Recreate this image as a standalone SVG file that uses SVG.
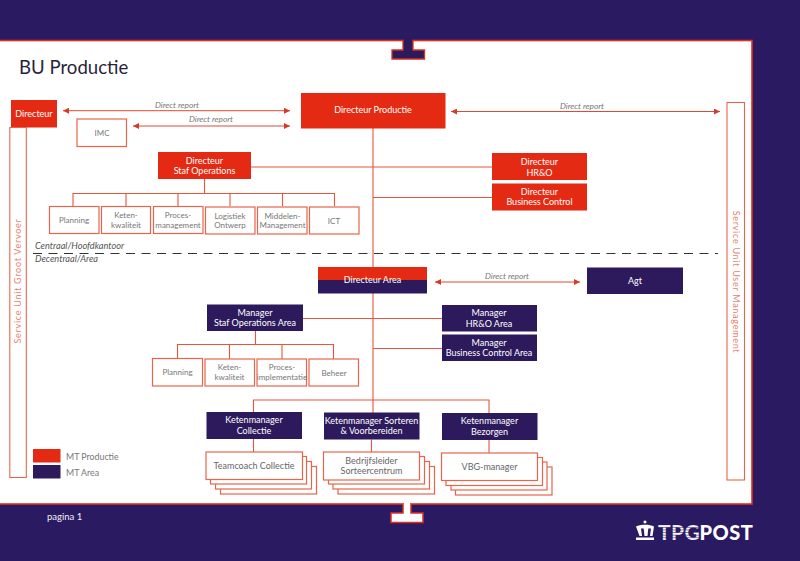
<svg xmlns="http://www.w3.org/2000/svg" width="800" height="561" viewBox="0 0 800 561">
<style>
text{font-family:Lato,"Open Sans","Liberation Sans",sans-serif;text-anchor:middle}
.r{fill:#e42a12}.d{fill:#2c1a5c}
.w{fill:#fff;font-size:9px}
.o{fill:#fff;stroke:#e8644c;stroke-width:1.2}
.g{fill:#777;font-size:8px}
.c{fill:none;stroke:#e8553c;stroke-width:1.1}
.a{fill:none;stroke:#df4a35;stroke-width:1;marker-start:url(#as);marker-end:url(#ae)}
.i{fill:#777;font-size:8.300px;font-style:italic}
.z{fill:#555;font-size:9.200px;font-style:italic;text-anchor:start}
.s{fill:#e98270;font-size:9px;letter-spacing:.72px}
.k{fill:none;stroke:#e8644c;stroke-width:1.1}
.l{fill:#777;font-size:8.800px;text-anchor:start}
.t{font-size:9px;fill:#666}
</style>
<defs>
<marker id="ae" markerWidth="7" markerHeight="6" refX="6" refY="3" orient="auto" markerUnits="userSpaceOnUse"><path d="M0 0L6 3L0 6Z" fill="#d83a28"/></marker>
<marker id="as" markerWidth="7" markerHeight="6" refX="0" refY="3" orient="auto" markerUnits="userSpaceOnUse"><path d="M6 0L0 3L6 6Z" fill="#d83a28"/></marker>
<pattern id="st" width="4" height="2.6" patternUnits="userSpaceOnUse"><rect width="4" height="1.7" fill="#fff"/><rect y="1.7" width="4" height="0.9" fill="#7d7398"/></pattern>
</defs>

<rect width="800" height="561" fill="#2a1a62"/>
<rect x="-2" y="40.500" width="754" height="463.500" fill="#fff" stroke="#e0301c" stroke-width="1.600"/>

<g id="tab-top"><path d="M403 40.500V50H392V59H424.500V50H413V40.500" fill="#2c1a5c" stroke="#d83020" stroke-width="1.300"/><rect x="404" y="38" width="8" height="4" fill="#2c1a5c"/></g>
<g id="tab-bottom"><path d="M403 504V513H391V522.500H423V513H411V504" fill="#fff" stroke="#d83020" stroke-width="1.500"/><rect x="404" y="502" width="6" height="4" fill="#fff"/></g>

<text x="19" y="74" style="text-anchor:start;font-size:18.600px" fill="#2a1f3a">BU Productie</text>

<g id="connectors">
<path class="c" d="M373 128V413M251 167H492M373 197.500H492M204.500 179V193M73 206V193.500H334.500V206M126 193V206M178 193V206M230 193V206M282.500 193V206"/>
<path class="c" d="M303 318.500H442M373 348.500H442M255.500 331V344.500M177.500 359V344.500H333.500V359M229.500 344.500V359M282 344.500V359"/>
<path class="c" d="M253.500 412V400H489V413M253.500 439V452M371.500 439.500V452M489 440V453"/>
<path class="a" d="M63 110.700H290"/>
<path class="a" d="M133 126H290"/>
<path class="a" d="M451 111.500H720"/>
<path class="a" d="M435 282H580"/>
<path d="M33 253.500H718" fill="none" stroke="#333" stroke-width="1" stroke-dasharray="9 6.500"/>
</g>
<text class="i" x="177" y="107.500">Direct report</text>
<text class="i" x="211" y="122">Direct report</text>
<text class="i" x="582" y="108.500">Direct report</text>
<text class="i" x="507" y="278.500">Direct report</text>
<text class="z" x="35" y="249">Centraal/Hoofdkantoor</text>
<text class="z" x="35" y="262">Decentraal/Area</text>

<g id="n-directeur"><rect class="r" x="11" y="100" width="46" height="27.500"/><text class="w" x="34" y="117">Directeur</text></g>
<g id="n-su-groot"><rect class="k" x="9.800" y="127.500" width="16.500" height="350"/><text class="s" transform="translate(21 281) rotate(-90)">Service Unit Groot Vervoer</text></g>
<g id="n-su-user"><rect class="k" x="727" y="102.500" width="17.500" height="377.500"/><text class="s" transform="translate(732.500 282) rotate(90)">Service Unit User Management</text></g>
<g id="n-imc"><rect class="o" x="77" y="119" width="49.500" height="27.500"/><text class="g" x="102" y="135.500">IMC</text></g>
<g id="n-dir-prod"><rect class="r" x="301" y="93" width="144.500" height="35.500"/><text class="w" x="373" y="113">Directeur Productie</text></g>
<g id="n-staf-op"><rect class="r" x="158" y="152" width="93" height="27"/><text class="w" x="204.500" y="163.500">Directeur</text><text class="w" x="204.500" y="174">Staf Operations</text></g>
<g id="n-hro"><rect class="r" x="492" y="153" width="95" height="27"/><text class="w" x="539.500" y="165">Directeur</text><text class="w" x="539.500" y="175.500">HR&amp;O</text></g>
<g id="n-bc"><rect class="r" x="492" y="183.500" width="95" height="27"/><text class="w" x="539.500" y="194.500">Directeur</text><text class="w" x="539.500" y="205">Business Control</text></g>

<g id="n-planning"><rect class="o" x="49.500" y="206.500" width="49.500" height="27"/><text class="g" x="74" y="223">Planning</text></g>
<g id="n-keten"><rect class="o" x="101.500" y="206.500" width="49" height="27"/><text class="g" x="126" y="218">Keten-</text><text class="g" x="126" y="227.500">kwaliteit</text></g>
<g id="n-proces"><rect class="o" x="153.500" y="206.500" width="49.500" height="27"/><text class="g" x="178" y="218">Proces-</text><text class="g" x="178" y="227.500">management</text></g>
<g id="n-logistiek"><rect class="o" x="205.500" y="207" width="49.500" height="27"/><text class="g" x="230" y="218.500">Logistiek</text><text class="g" x="230" y="228">Ontwerp</text></g>
<g id="n-middelen"><rect class="o" x="257.500" y="207" width="49.500" height="27"/><text class="g" x="282.500" y="218.500">Middelen-</text><text class="g" x="282.500" y="228">Management</text></g>
<g id="n-ict"><rect class="o" x="309.500" y="207" width="49.500" height="27"/><text class="g" x="334" y="224">ICT</text></g>

<g id="n-dir-area"><rect class="d" x="318" y="267" width="109" height="26.500"/><rect class="r" x="318" y="267" width="109" height="13"/><text class="w" x="372.500" y="283">Directeur Area</text></g>
<g id="n-agt"><rect class="d" x="587" y="267.500" width="96" height="26.500"/><text class="w" x="635" y="284">Agt</text></g>
<g id="n-man-staf"><rect class="d" x="207" y="304.500" width="96" height="26.500"/><text class="w" x="255" y="315.500">Manager</text><text class="w" x="255" y="326">Staf Operations Area</text></g>
<g id="n-man-hro"><rect class="d" x="442" y="305" width="95" height="26.500"/><text class="w" x="489" y="316">Manager</text><text class="w" x="489" y="326.500">HR&amp;O Area</text></g>
<g id="n-man-bc"><rect class="d" x="442" y="334.500" width="95" height="26.500"/><text class="w" x="489" y="345.500">Manager</text><text class="w" x="489" y="356">Business Control Area</text></g>

<g id="n-a-planning"><rect class="o" x="152.500" y="358.500" width="50" height="27.500"/><text class="g" x="177.500" y="375">Planning</text></g>
<g id="n-a-keten"><rect class="o" x="205" y="359" width="49.500" height="27"/><text class="g" x="229.500" y="370">Keten-</text><text class="g" x="229.500" y="379.500">kwaliteit</text></g>
<g id="n-a-proces"><rect class="o" x="257" y="359" width="49.500" height="27"/><text class="g" x="282" y="370">Proces-</text><text class="g" x="282" y="379.500">implementatie</text></g>
<g id="n-a-beheer"><rect class="o" x="309" y="359" width="49.500" height="27"/><text class="g" x="334" y="375.500">Beheer</text></g>

<g id="n-km-col"><rect class="d" x="206.500" y="412" width="95.500" height="27"/><text class="w" x="254" y="423">Ketenmanager</text><text class="w" x="254" y="433.500">Collectie</text></g>
<g id="n-km-sort"><rect class="d" x="324" y="412.500" width="95.500" height="27"/><text class="w" x="371.500" y="423.500">Ketenmanager Sorteren</text><text class="w" x="371.500" y="434">&amp; Voorbereiden</text></g>
<g id="n-km-bez"><rect class="d" x="442" y="413" width="95.500" height="27"/><text class="w" x="489.500" y="424">Ketenmanager</text><text class="w" x="489.500" y="434.500">Bezorgen</text></g>

<g id="n-teamcoach">
<rect class="o" x="220.500" y="466.500" width="96" height="27.500"/><rect class="o" x="215.500" y="461.500" width="96" height="27.500"/><rect class="o" x="210.500" y="456.500" width="96" height="27.500"/><rect class="o" x="206" y="452" width="96.500" height="27.500"/>
<text class="t" x="254" y="469">Teamcoach Collectie</text></g>
<g id="n-bedrijfsleider">
<rect class="o" x="338" y="466.500" width="96.500" height="27.500"/><rect class="o" x="333" y="461.500" width="96.500" height="27.500"/><rect class="o" x="328.500" y="456.500" width="96" height="27.500"/><rect class="o" x="323.500" y="452" width="96" height="28"/>
<text class="t" x="371.500" y="463.500">Bedrijfsleider</text><text class="t" x="371.500" y="474">Sorteercentrum</text></g>
<g id="n-vbg">
<rect class="o" x="455.500" y="467" width="96.500" height="28"/><rect class="o" x="451" y="462" width="96" height="28"/><rect class="o" x="446" y="457.500" width="96.500" height="28"/><rect class="o" x="441.500" y="453" width="96" height="27.500"/>
<text class="t" x="489.500" y="469.500">VBG-manager</text></g>

<g id="legend">
<rect class="r" x="33" y="449" width="27.500" height="13.500"/><rect class="d" x="33" y="465" width="27.500" height="13.500"/>
<text class="l" x="66" y="460">MT Productie</text><text class="l" x="66" y="476">MT Area</text>
</g>

<text x="47" y="519.500" style="text-anchor:start;font-size:9.500px" fill="#f2eef5">pagina 1</text>

<g id="logo">
<path d="M645 520.500a1.500 1.500 0 1 1-.01 0M636 526.500c4-2.500 14-2.500 18 0l-1.500 9.500h-2.500l1-7.500h-2.700l-.8 7.500h-3l-.8-7.500h-2.700l1 7.500h-2.500zM636 537.500h18v2.500h-18z" fill="#fff"/>
<text x="658" y="540" style="text-anchor:start;font-size:21px;font-weight:700;letter-spacing:.4px" fill="url(#st)">TPG</text>
<text x="699.500" y="540" style="text-anchor:start;font-size:20px;font-weight:900;letter-spacing:.5px" fill="#fff">POST</text>
</g>
</svg>
